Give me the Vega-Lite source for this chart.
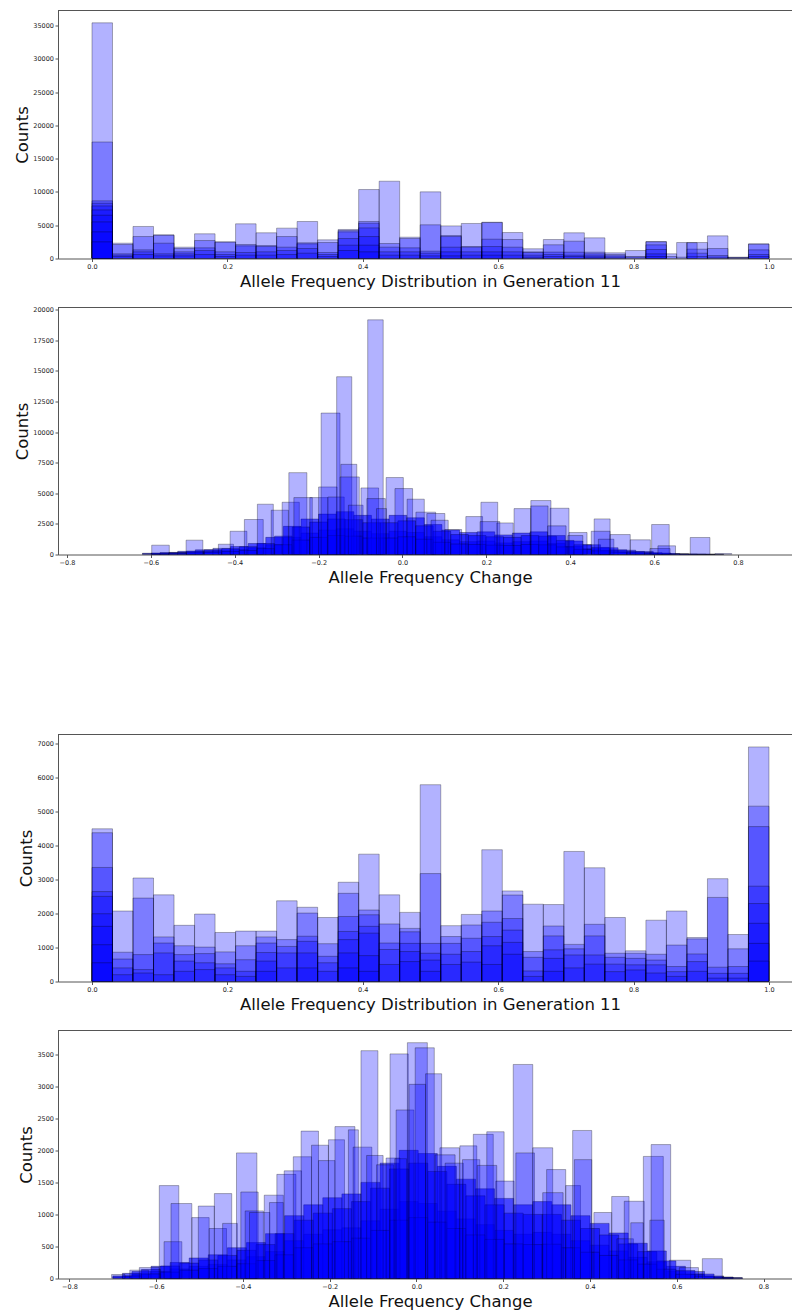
{
"$schema": "https://vega.github.io/schema/vega-lite/v6.json",
"bounds": "flush",
"spacing": 49,
"padding": {"left": 14, "top": 9.5, "right": 0, "bottom": 0},
"config": {
  "view": {"stroke": null},
  "font": "DejaVu Sans",
  "axis": {"labelFont": "DejaVu Sans", "titleFont": "DejaVu Sans", "labelFontSize": 6.5, "labelColor": "#222", "titleFontSize": 16.5, "titleFontWeight": "normal", "titleColor": "#111", "domainColor": "#555", "tickColor": "#555", "tickSize": 3, "grid": false, "labelPadding": 1.5, "domainWidth": 1, "tickWidth": 1}
},
"datasets": {
  "h1": [
    {"a":0,"b":0.0303,"c":[35400,17500,8660,8300,7900,7300,6500,5500,4000,2500]},
    {"a":0.0303,"b":0.0606,"c":[2300,2100,700,500,300]},
    {"a":0.0606,"b":0.0909,"c":[4810,3300,1300,1000,600]},
    {"a":0.0909,"b":0.1212,"c":[3560,3480,2300,700,400]},
    {"a":0.1212,"b":0.1515,"c":[1700,1500,1000,700,400]},
    {"a":0.1515,"b":0.1818,"c":[3710,2700,1600,1200,600]},
    {"a":0.1818,"b":0.2121,"c":[2500,2450,1000,600,300]},
    {"a":0.2121,"b":0.2424,"c":[5210,2100,1900,900,500]},
    {"a":0.2424,"b":0.2727,"c":[3860,1950,1800,1000,500]},
    {"a":0.2727,"b":0.303,"c":[4560,3300,1700,1200,600]},
    {"a":0.303,"b":0.3333,"c":[5560,2360,2200,1500,800]},
    {"a":0.3333,"b":0.3636,"c":[2800,2400,900,600,300]},
    {"a":0.3636,"b":0.3939,"c":[4360,4200,4000,3000,2000,1200]},
    {"a":0.3939,"b":0.4242,"c":[10360,5560,5300,4600,3300,2000,1000]},
    {"a":0.4242,"b":0.4545,"c":[11610,2250,1700,1000,500]},
    {"a":0.4545,"b":0.4848,"c":[3200,3000,1600,1000,500]},
    {"a":0.4848,"b":0.5152,"c":[10010,5060,1100,800,400]},
    {"a":0.5152,"b":0.5455,"c":[4900,3450,3300,1700,1000,400]},
    {"a":0.5455,"b":0.5758,"c":[5260,1800,1700,1000,500]},
    {"a":0.5758,"b":0.6061,"c":[5450,5400,2900,1800,1000,500]},
    {"a":0.6061,"b":0.6364,"c":[3900,2850,1700,1000,500]},
    {"a":0.6364,"b":0.6667,"c":[1460,1000,900,500,200]},
    {"a":0.6667,"b":0.697,"c":[2850,2060,960,600,300]},
    {"a":0.697,"b":0.7273,"c":[3860,2600,950,500,300]},
    {"a":0.7273,"b":0.7576,"c":[3100,950,700,400,200]},
    {"a":0.7576,"b":0.7879,"c":[850,600,400,200]},
    {"a":0.7879,"b":0.8182,"c":[1200,300,200]},
    {"a":0.8182,"b":0.8485,"c":[2550,2500,2050,1350,700,300]},
    {"a":0.8485,"b":0.8636,"c":[700,300]},
    {"a":0.8636,"b":0.8788,"c":[2400,200]},
    {"a":0.8788,"b":0.9091,"c":[2400,1400,800,300]},
    {"a":0.8788,"b":0.8939,"c":[2380]},
    {"a":0.9091,"b":0.9394,"c":[3400,1500,450,200]},
    {"a":0.9394,"b":0.9697,"c":[200,150,100]},
    {"a":0.9697,"b":1,"c":[2200,2150,1300,600,300]}
  ],
  "h3": [
    {"a":0,"b":0.0303,"c":[4485,4370,3350,2640,2500,1990,1620,1080,550]},
    {"a":0.0303,"b":0.0606,"c":[2070,860,660,400,200]},
    {"a":0.0606,"b":0.0909,"c":[3040,2450,790,350,250]},
    {"a":0.0909,"b":0.1212,"c":[2545,1310,1130,840,200]},
    {"a":0.1212,"b":0.1515,"c":[1650,1050,790,600,300]},
    {"a":0.1515,"b":0.1818,"c":[1980,1010,820,550,350]},
    {"a":0.1818,"b":0.2121,"c":[1440,870,520,400,200]},
    {"a":0.2121,"b":0.2424,"c":[1480,1050,640,300,150]},
    {"a":0.2424,"b":0.2727,"c":[1480,1310,1130,850,600,300]},
    {"a":0.2727,"b":0.303,"c":[2370,1230,1030,840,400]},
    {"a":0.303,"b":0.3333,"c":[2180,2010,1330,1180,840,400]},
    {"a":0.3333,"b":0.3636,"c":[1880,1110,740,550,300]},
    {"a":0.3636,"b":0.3939,"c":[2915,2590,1910,1470,1230,840,400]},
    {"a":0.3939,"b":0.4242,"c":[3740,2100,1960,1620,1420,760,300]},
    {"a":0.4242,"b":0.4545,"c":[2545,1690,1130,940,500]},
    {"a":0.4545,"b":0.4848,"c":[2030,1560,1460,1120,880,585]},
    {"a":0.4848,"b":0.5152,"c":[5780,3170,1120,830,630,300]},
    {"a":0.5152,"b":0.5455,"c":[1640,1320,1120,800,500]},
    {"a":0.5455,"b":0.5758,"c":[1970,1660,1270,880,570]},
    {"a":0.5758,"b":0.6061,"c":[3870,2070,1740,1320,1050,500]},
    {"a":0.6061,"b":0.6364,"c":[2660,2540,1850,1510,1150,800]},
    {"a":0.6364,"b":0.6667,"c":[2270,880,710,310,150]},
    {"a":0.6667,"b":0.697,"c":[2260,1630,1340,930,680,300]},
    {"a":0.697,"b":0.7273,"c":[3820,1090,960,780,400]},
    {"a":0.7273,"b":0.7576,"c":[3340,1680,1340,780,510]},
    {"a":0.7576,"b":0.7879,"c":[1880,830,710,510,290]},
    {"a":0.7879,"b":0.8182,"c":[900,830,680,490,340]},
    {"a":0.8182,"b":0.8485,"c":[1800,800,630,490,250]},
    {"a":0.8485,"b":0.8788,"c":[2070,1070,440,290,150]},
    {"a":0.8788,"b":0.9091,"c":[1290,1250,810,585,300]},
    {"a":0.9091,"b":0.9394,"c":[3020,2470,420,240,100]},
    {"a":0.9394,"b":0.9697,"c":[1380,960,440,240,100]},
    {"a":0.9697,"b":1,"c":[6890,5150,4550,2800,2290,1710,1120,600]}
  ],
  "g2": [
    {"a":-0.62,"b":-0.578,"c":[100,60]},
    {"a":-0.578,"b":-0.536,"c":[160,90]},
    {"a":-0.536,"b":-0.494,"c":[260,150]},
    {"a":-0.494,"b":-0.452,"c":[380,230]},
    {"a":-0.452,"b":-0.41,"c":[500,300]},
    {"a":-0.41,"b":-0.368,"c":[650,400]},
    {"a":-0.368,"b":-0.326,"c":[900,550]},
    {"a":-0.326,"b":-0.284,"c":[1400,800]},
    {"a":-0.284,"b":-0.242,"c":[2300,1400]},
    {"a":-0.242,"b":-0.2,"c":[2900,1750]},
    {"a":-0.2,"b":-0.158,"c":[3300,2000]},
    {"a":-0.158,"b":-0.116,"c":[3500,2100]},
    {"a":-0.116,"b":-0.074,"c":[3200,1900]},
    {"a":-0.074,"b":-0.032,"c":[2900,1700]},
    {"a":-0.032,"b":0.01,"c":[3200,1900]},
    {"a":0.01,"b":0.052,"c":[3000,1800]},
    {"a":0.052,"b":0.094,"c":[2450,1450]},
    {"a":0.094,"b":0.136,"c":[2000,1200]},
    {"a":0.136,"b":0.178,"c":[1800,1050]},
    {"a":0.178,"b":0.22,"c":[1850,1100]},
    {"a":0.22,"b":0.262,"c":[1600,950]},
    {"a":0.262,"b":0.304,"c":[1750,1050]},
    {"a":0.304,"b":0.346,"c":[1850,1100]},
    {"a":0.346,"b":0.388,"c":[1550,900]},
    {"a":0.388,"b":0.43,"c":[1100,650]},
    {"a":0.43,"b":0.472,"c":[800,470]},
    {"a":0.472,"b":0.514,"c":[550,320]},
    {"a":0.514,"b":0.556,"c":[350,200]},
    {"a":0.556,"b":0.598,"c":[240,140]},
    {"a":0.598,"b":0.64,"c":[120,70]},
    {"a":0.64,"b":0.682,"c":[60,35]},
    {"a":0.682,"b":0.724,"c":[30,18]},
    {"a":0.724,"b":0.766,"c":[15,8]},
    {"a":-0.599,"b":-0.557,"c":[110,60]},
    {"a":-0.557,"b":-0.515,"c":[170,90]},
    {"a":-0.515,"b":-0.473,"c":[270,145]},
    {"a":-0.473,"b":-0.431,"c":[380,200]},
    {"a":-0.431,"b":-0.389,"c":[480,250]},
    {"a":-0.389,"b":-0.347,"c":[640,330]},
    {"a":-0.347,"b":-0.305,"c":[900,480]},
    {"a":-0.305,"b":-0.263,"c":[1500,800]},
    {"a":-0.263,"b":-0.221,"c":[2250,1180]},
    {"a":-0.221,"b":-0.179,"c":[2650,1400]},
    {"a":-0.179,"b":-0.137,"c":[2900,1550]},
    {"a":-0.137,"b":-0.095,"c":[2850,1500]},
    {"a":-0.095,"b":-0.053,"c":[2600,1350]},
    {"a":-0.053,"b":-0.011,"c":[2600,1350]},
    {"a":-0.011,"b":0.031,"c":[2750,1450]},
    {"a":0.031,"b":0.073,"c":[2350,1250]},
    {"a":0.073,"b":0.115,"c":[1900,1000]},
    {"a":0.115,"b":0.157,"c":[1630,860]},
    {"a":0.157,"b":0.199,"c":[1550,820]},
    {"a":0.199,"b":0.241,"c":[1450,770]},
    {"a":0.241,"b":0.283,"c":[1400,740]},
    {"a":0.283,"b":0.325,"c":[1550,820]},
    {"a":0.325,"b":0.367,"c":[1500,790]},
    {"a":0.367,"b":0.409,"c":[1150,620]},
    {"a":0.409,"b":0.451,"c":[800,420]},
    {"a":0.451,"b":0.493,"c":[580,300]},
    {"a":0.493,"b":0.535,"c":[380,200]},
    {"a":0.535,"b":0.577,"c":[250,130]},
    {"a":0.577,"b":0.619,"c":[150,80]},
    {"a":0.619,"b":0.661,"c":[75,40]},
    {"a":0.661,"b":0.703,"c":[38,20]},
    {"a":0.703,"b":0.745,"c":[17,9]}
  ],
  "r2": [
    {"a":-0.598,"b":-0.556,"c":760},
    {"a":-0.516,"b":-0.476,"c":1170},
    {"a":-0.439,"b":-0.403,"c":840},
    {"a":-0.411,"b":-0.371,"c":1900},
    {"a":-0.377,"b":-0.332,"c":2860},
    {"a":-0.346,"b":-0.308,"c":4110},
    {"a":-0.313,"b":-0.272,"c":3620},
    {"a":-0.287,"b":-0.246,"c":4270},
    {"a":-0.271,"b":-0.228,"c":6690},
    {"a":-0.259,"b":-0.215,"c":4650},
    {"a":-0.221,"b":-0.178,"c":4650},
    {"a":-0.2,"b":-0.156,"c":5520},
    {"a":-0.194,"b":-0.149,"c":11560},
    {"a":-0.178,"b":-0.139,"c":4700},
    {"a":-0.157,"b":-0.121,"c":14530},
    {"a":-0.147,"b":-0.109,"c":7370},
    {"a":-0.149,"b":-0.103,"c":6340},
    {"a":-0.129,"b":-0.094,"c":4030},
    {"a":-0.099,"b":-0.057,"c":5440},
    {"a":-0.083,"b":-0.046,"c":19180},
    {"a":-0.085,"b":-0.041,"c":4570},
    {"a":-0.062,"b":-0.038,"c":3750},
    {"a":-0.039,"b":0.002,"c":6290},
    {"a":-0.018,"b":0.024,"c":5390},
    {"a":0.011,"b":0.052,"c":4520},
    {"a":0.032,"b":0.079,"c":3460},
    {"a":0.058,"b":0.101,"c":3350},
    {"a":0.068,"b":0.109,"c":2800},
    {"a":0.101,"b":0.141,"c":2040},
    {"a":0.151,"b":0.191,"c":3100},
    {"a":0.187,"b":0.227,"c":4270},
    {"a":0.185,"b":0.232,"c":2690},
    {"a":0.225,"b":0.264,"c":2580},
    {"a":0.266,"b":0.306,"c":3750},
    {"a":0.306,"b":0.354,"c":4410},
    {"a":0.306,"b":0.347,"c":3970},
    {"a":0.352,"b":0.397,"c":3780},
    {"a":0.346,"b":0.39,"c":2340},
    {"a":0.397,"b":0.44,"c":1800},
    {"a":0.394,"b":0.43,"c":1550},
    {"a":0.457,"b":0.495,"c":2910},
    {"a":0.45,"b":0.495,"c":1900},
    {"a":0.467,"b":0.504,"c":1250},
    {"a":0.495,"b":0.543,"c":1630},
    {"a":0.543,"b":0.591,"c":1200},
    {"a":0.594,"b":0.636,"c":2450},
    {"a":0.59,"b":0.638,"c":490},
    {"a":0.609,"b":0.651,"c":710},
    {"a":0.686,"b":0.733,"c":1390},
    {"a":0.745,"b":0.785,"c":80}
  ],
  "g4": [
    {"a":-0.7,"b":-0.656,"c":[40,25]},
    {"a":-0.656,"b":-0.612,"c":[110,65]},
    {"a":-0.612,"b":-0.568,"c":[190,110]},
    {"a":-0.568,"b":-0.524,"c":[250,150]},
    {"a":-0.524,"b":-0.48,"c":[320,190]},
    {"a":-0.48,"b":-0.436,"c":[370,220]},
    {"a":-0.436,"b":-0.392,"c":[480,290]},
    {"a":-0.392,"b":-0.348,"c":[560,340]},
    {"a":-0.348,"b":-0.304,"c":[700,420]},
    {"a":-0.304,"b":-0.26,"c":[980,590]},
    {"a":-0.26,"b":-0.216,"c":[1150,690]},
    {"a":-0.216,"b":-0.172,"c":[1260,760]},
    {"a":-0.172,"b":-0.128,"c":[1320,790]},
    {"a":-0.128,"b":-0.084,"c":[1500,900]},
    {"a":-0.084,"b":-0.04,"c":[1800,1080]},
    {"a":-0.04,"b":0.004,"c":[2000,1200]},
    {"a":0.004,"b":0.048,"c":[1950,1170]},
    {"a":0.048,"b":0.092,"c":[1750,1050]},
    {"a":0.092,"b":0.136,"c":[1550,930]},
    {"a":0.136,"b":0.18,"c":[1400,840]},
    {"a":0.18,"b":0.224,"c":[1250,750]},
    {"a":0.224,"b":0.268,"c":[1150,690]},
    {"a":0.268,"b":0.312,"c":[1200,720]},
    {"a":0.312,"b":0.356,"c":[1150,690]},
    {"a":0.356,"b":0.4,"c":[980,590]},
    {"a":0.4,"b":0.444,"c":[860,520]},
    {"a":0.444,"b":0.488,"c":[710,430]},
    {"a":0.488,"b":0.532,"c":[550,330]},
    {"a":0.532,"b":0.576,"c":[430,260]},
    {"a":0.576,"b":0.62,"c":[190,110]},
    {"a":0.62,"b":0.664,"c":[110,65]},
    {"a":0.664,"b":0.708,"c":[40,25]},
    {"a":0.708,"b":0.752,"c":[10,6]},
    {"a":-0.678,"b":-0.634,"c":[80,40]},
    {"a":-0.634,"b":-0.59,"c":[140,72]},
    {"a":-0.59,"b":-0.546,"c":[195,100]},
    {"a":-0.546,"b":-0.502,"c":[240,130]},
    {"a":-0.502,"b":-0.458,"c":[290,155]},
    {"a":-0.458,"b":-0.414,"c":[360,190]},
    {"a":-0.414,"b":-0.37,"c":[440,230]},
    {"a":-0.37,"b":-0.326,"c":[530,280]},
    {"a":-0.326,"b":-0.282,"c":[700,370]},
    {"a":-0.282,"b":-0.238,"c":[910,480]},
    {"a":-0.238,"b":-0.194,"c":[1020,540]},
    {"a":-0.194,"b":-0.15,"c":[1090,575]},
    {"a":-0.15,"b":-0.106,"c":[1200,630]},
    {"a":-0.106,"b":-0.062,"c":[1410,750]},
    {"a":-0.062,"b":-0.018,"c":[1710,910]},
    {"a":-0.018,"b":0.026,"c":[1800,950]},
    {"a":0.026,"b":0.07,"c":[1670,880]},
    {"a":0.07,"b":0.114,"c":[1470,780]},
    {"a":0.114,"b":0.158,"c":[1290,680]},
    {"a":0.158,"b":0.202,"c":[1150,610]},
    {"a":0.202,"b":0.246,"c":[1020,540]},
    {"a":0.246,"b":0.29,"c":[1000,530]},
    {"a":0.29,"b":0.334,"c":[1000,535]},
    {"a":0.334,"b":0.378,"c":[910,480]},
    {"a":0.378,"b":0.422,"c":[780,410]},
    {"a":0.422,"b":0.466,"c":[680,360]},
    {"a":0.466,"b":0.51,"c":[540,290]},
    {"a":0.51,"b":0.554,"c":[420,225]},
    {"a":0.554,"b":0.598,"c":[275,145]},
    {"a":0.598,"b":0.642,"c":[125,66]},
    {"a":0.642,"b":0.686,"c":[70,37]},
    {"a":0.686,"b":0.73,"c":[24,13]}
  ],
  "r4": [
    {"a":-0.703,"b":-0.672,"c":62},
    {"a":-0.661,"b":-0.618,"c":130},
    {"a":-0.639,"b":-0.593,"c":170},
    {"a":-0.593,"b":-0.548,"c":1450},
    {"a":-0.582,"b":-0.541,"c":575},
    {"a":-0.566,"b":-0.518,"c":1170},
    {"a":-0.518,"b":-0.478,"c":950},
    {"a":-0.503,"b":-0.466,"c":1130},
    {"a":-0.478,"b":-0.438,"c":780},
    {"a":-0.466,"b":-0.426,"c":1325},
    {"a":-0.447,"b":-0.413,"c":860},
    {"a":-0.415,"b":-0.368,"c":1960},
    {"a":-0.405,"b":-0.365,"c":1350},
    {"a":-0.395,"b":-0.353,"c":1055},
    {"a":-0.385,"b":-0.338,"c":1030},
    {"a":-0.351,"b":-0.307,"c":1300},
    {"a":-0.339,"b":-0.307,"c":1185},
    {"a":-0.322,"b":-0.278,"c":1625},
    {"a":-0.305,"b":-0.265,"c":1680},
    {"a":-0.284,"b":-0.242,"c":1900},
    {"a":-0.266,"b":-0.226,"c":2300},
    {"a":-0.242,"b":-0.203,"c":2080},
    {"a":-0.226,"b":-0.188,"c":1840},
    {"a":-0.203,"b":-0.166,"c":2165},
    {"a":-0.188,"b":-0.142,"c":2370},
    {"a":-0.157,"b":-0.134,"c":2320},
    {"a":-0.146,"b":-0.103,"c":2050},
    {"a":-0.128,"b":-0.089,"c":3555},
    {"a":-0.115,"b":-0.077,"c":1920},
    {"a":-0.092,"b":-0.053,"c":1775},
    {"a":-0.07,"b":-0.038,"c":1880},
    {"a":-0.061,"b":-0.019,"c":3505},
    {"a":-0.05,"b":-0.023,"c":1870},
    {"a":-0.047,"b":-0.006,"c":2630},
    {"a":-0.021,"b":0.025,"c":3680},
    {"a":-0.003,"b":0.041,"c":3600},
    {"a":-0.017,"b":0.021,"c":3030},
    {"a":0.021,"b":0.058,"c":3195},
    {"a":0.054,"b":0.099,"c":2040},
    {"a":0.043,"b":0.089,"c":1930},
    {"a":0.066,"b":0.108,"c":1800},
    {"a":0.1,"b":0.139,"c":2070},
    {"a":0.106,"b":0.146,"c":1855},
    {"a":0.131,"b":0.177,"c":2250},
    {"a":0.162,"b":0.202,"c":2290},
    {"a":0.14,"b":0.185,"c":1765},
    {"a":0.183,"b":0.225,"c":1520},
    {"a":0.223,"b":0.268,"c":3340},
    {"a":0.229,"b":0.272,"c":1960},
    {"a":0.268,"b":0.314,"c":2040},
    {"a":0.3,"b":0.344,"c":1700},
    {"a":0.291,"b":0.338,"c":1340},
    {"a":0.344,"b":0.378,"c":1450},
    {"a":0.36,"b":0.404,"c":2310},
    {"a":0.364,"b":0.404,"c":1855},
    {"a":0.409,"b":0.45,"c":1030},
    {"a":0.45,"b":0.49,"c":1280},
    {"a":0.462,"b":0.5,"c":620},
    {"a":0.479,"b":0.525,"c":1205},
    {"a":0.494,"b":0.523,"c":870},
    {"a":0.523,"b":0.569,"c":1905},
    {"a":0.541,"b":0.586,"c":2090},
    {"a":0.538,"b":0.571,"c":910},
    {"a":0.583,"b":0.632,"c":285},
    {"a":0.606,"b":0.65,"c":170},
    {"a":0.659,"b":0.705,"c":310},
    {"a":0.705,"b":0.75,"c":15}
  ]
},
"vconcat": [
  {
    "width": 734, "height": 248,
    "layer": [
      {"data": {"name": "h1"}, "transform": [{"flatten": ["c"]}],
       "mark": {"type": "bar", "fill": "#0000ff", "fillOpacity": 0.3, "stroke": "#000", "strokeOpacity": 0.3, "strokeWidth": 1, "clip": true},
       "encoding": {
         "x": {"field": "a", "type": "quantitative", "scale": {"domain": [-0.0502, 1.034], "nice": false, "zero": false}, "axis": {"values": [0, 0.2, 0.4, 0.6, 0.8, 1], "format": ".1f", "title": "Allele Frequency Distribution in Generation 11", "titleX": 372, "titleY": 28, "titleBaseline": "alphabetic"}},
         "x2": {"field": "b"},
         "y": {"field": "c", "type": "quantitative", "stack": null, "scale": {"domain": [0, 37253], "nice": false}, "axis": {"values": [0, 5000, 10000, 15000, 20000, 25000, 30000, 35000], "format": "d", "title": "Counts", "titleX": -31, "titleY": 124, "titleAngle": 270, "titleBaseline": "alphabetic"}},
         "y2": {"datum": 0}
       }},
      {"data": {"values": [{}]}, "mark": {"type": "rule", "color": "#555", "strokeWidth": 1},
       "encoding": {"y": {"datum": 37253, "type": "quantitative", "scale": {"domain": [0, 37253], "nice": false}, "axis": {"values": [0, 5000, 10000, 15000, 20000, 25000, 30000, 35000], "format": "d", "title": "Counts", "titleX": -31, "titleY": 124, "titleAngle": 270, "titleBaseline": "alphabetic"}}}}
    ]
  },
  {
    "width": 734, "height": 247,
    "layer": [
      {"data": {"name": "g2"}, "transform": [{"flatten": ["c"]}],
       "mark": {"type": "bar", "fill": "#0000ff", "fillOpacity": 0.6, "stroke": "#000", "strokeOpacity": 0.35, "strokeWidth": 1, "clip": true},
       "encoding": {
         "x": {"field": "a", "type": "quantitative", "scale": {"domain": [-0.8214, 0.9287], "nice": false, "zero": false}, "axis": {"values": [-0.8, -0.6, -0.4, -0.2, 0, 0.2, 0.4, 0.6, 0.8], "format": ".1f", "title": "Allele Frequency Change", "titleX": 372, "titleY": 28, "titleBaseline": "alphabetic"}},
         "x2": {"field": "b"},
         "y": {"field": "c", "type": "quantitative", "stack": null, "scale": {"domain": [0, 20188], "nice": false}, "axis": {"values": [0, 2500, 5000, 7500, 10000, 12500, 15000, 17500, 20000], "format": "d", "title": "Counts", "titleX": -31, "titleY": 123.5, "titleAngle": 270, "titleBaseline": "alphabetic"}},
         "y2": {"datum": 0}
       }},
      {"data": {"name": "r2"},
       "mark": {"type": "bar", "fill": "#0000ff", "fillOpacity": 0.3, "stroke": "#000", "strokeOpacity": 0.3, "strokeWidth": 1, "clip": true},
       "encoding": {
         "x": {"field": "a", "type": "quantitative", "scale": {"domain": [-0.8214, 0.9287], "nice": false, "zero": false}, "axis": {"values": [-0.8, -0.6, -0.4, -0.2, 0, 0.2, 0.4, 0.6, 0.8], "format": ".1f", "title": "Allele Frequency Change", "titleX": 372, "titleY": 28, "titleBaseline": "alphabetic"}},
         "x2": {"field": "b"},
         "y": {"field": "c", "type": "quantitative", "stack": null, "scale": {"domain": [0, 20188], "nice": false}, "axis": {"values": [0, 2500, 5000, 7500, 10000, 12500, 15000, 17500, 20000], "format": "d", "title": "Counts", "titleX": -31, "titleY": 123.5, "titleAngle": 270, "titleBaseline": "alphabetic"}},
         "y2": {"datum": 0}
       }},
      {"data": {"values": [{}]}, "mark": {"type": "rule", "color": "#555", "strokeWidth": 1},
       "encoding": {"y": {"datum": 20188, "type": "quantitative", "scale": {"domain": [0, 20188], "nice": false}, "axis": {"values": [0, 2500, 5000, 7500, 10000, 12500, 15000, 17500, 20000], "format": "d", "title": "Counts", "titleX": -31, "titleY": 123.5, "titleAngle": 270, "titleBaseline": "alphabetic"}}}}
    ]
  },
  {
    "width": 734, "height": 82,
    "data": {"values": [{}]},
    "mark": {"type": "text", "text": ""}
  },
  {
    "width": 734, "height": 247,
    "layer": [
      {"data": {"name": "h3"}, "transform": [{"flatten": ["c"]}],
       "mark": {"type": "bar", "fill": "#0000ff", "fillOpacity": 0.3, "stroke": "#000", "strokeOpacity": 0.3, "strokeWidth": 1, "clip": true},
       "encoding": {
         "x": {"field": "a", "type": "quantitative", "scale": {"domain": [-0.0502, 1.034], "nice": false, "zero": false}, "axis": {"values": [0, 0.2, 0.4, 0.6, 0.8, 1], "format": ".1f", "title": "Allele Frequency Distribution in Generation 11", "titleX": 372, "titleY": 28, "titleBaseline": "alphabetic"}},
         "x2": {"field": "b"},
         "y": {"field": "c", "type": "quantitative", "stack": null, "scale": {"domain": [0, 7255], "nice": false}, "axis": {"values": [0, 1000, 2000, 3000, 4000, 5000, 6000, 7000], "format": "d", "title": "Counts", "titleX": -27, "titleY": 123.5, "titleAngle": 270, "titleBaseline": "alphabetic"}},
         "y2": {"datum": 0}
       }},
      {"data": {"values": [{}]}, "mark": {"type": "rule", "color": "#555", "strokeWidth": 1},
       "encoding": {"y": {"datum": 7255, "type": "quantitative", "scale": {"domain": [0, 7255], "nice": false}, "axis": {"values": [0, 1000, 2000, 3000, 4000, 5000, 6000, 7000], "format": "d", "title": "Counts", "titleX": -27, "titleY": 123.5, "titleAngle": 270, "titleBaseline": "alphabetic"}}}}
    ]
  },
  {
    "width": 734, "height": 248,
    "layer": [
      {"data": {"name": "g4"}, "transform": [{"flatten": ["c"]}],
       "mark": {"type": "bar", "fill": "#0000ff", "fillOpacity": 0.6, "stroke": "#000", "strokeOpacity": 0.35, "strokeWidth": 1, "clip": true},
       "encoding": {
         "x": {"field": "a", "type": "quantitative", "scale": {"domain": [-0.8265, 0.8657], "nice": false, "zero": false}, "axis": {"values": [-0.8, -0.6, -0.4, -0.2, 0, 0.2, 0.4, 0.6, 0.8], "format": ".1f", "title": "Allele Frequency Change", "titleX": 372, "titleY": 28, "titleBaseline": "alphabetic"}},
         "x2": {"field": "b"},
         "y": {"field": "c", "type": "quantitative", "stack": null, "scale": {"domain": [0, 3870], "nice": false}, "axis": {"values": [0, 500, 1000, 1500, 2000, 2500, 3000, 3500], "format": "d", "title": "Counts", "titleX": -27, "titleY": 124, "titleAngle": 270, "titleBaseline": "alphabetic"}},
         "y2": {"datum": 0}
       }},
      {"data": {"name": "r4"},
       "mark": {"type": "bar", "fill": "#0000ff", "fillOpacity": 0.3, "stroke": "#000", "strokeOpacity": 0.3, "strokeWidth": 1, "clip": true},
       "encoding": {
         "x": {"field": "a", "type": "quantitative", "scale": {"domain": [-0.8265, 0.8657], "nice": false, "zero": false}, "axis": {"values": [-0.8, -0.6, -0.4, -0.2, 0, 0.2, 0.4, 0.6, 0.8], "format": ".1f", "title": "Allele Frequency Change", "titleX": 372, "titleY": 28, "titleBaseline": "alphabetic"}},
         "x2": {"field": "b"},
         "y": {"field": "c", "type": "quantitative", "stack": null, "scale": {"domain": [0, 3870], "nice": false}, "axis": {"values": [0, 500, 1000, 1500, 2000, 2500, 3000, 3500], "format": "d", "title": "Counts", "titleX": -27, "titleY": 124, "titleAngle": 270, "titleBaseline": "alphabetic"}},
         "y2": {"datum": 0}
       }},
      {"data": {"values": [{}]}, "mark": {"type": "rule", "color": "#555", "strokeWidth": 1},
       "encoding": {"y": {"datum": 3870, "type": "quantitative", "scale": {"domain": [0, 3870], "nice": false}, "axis": {"values": [0, 500, 1000, 1500, 2000, 2500, 3000, 3500], "format": "d", "title": "Counts", "titleX": -27, "titleY": 124, "titleAngle": 270, "titleBaseline": "alphabetic"}}}}
    ]
  }
]
}
